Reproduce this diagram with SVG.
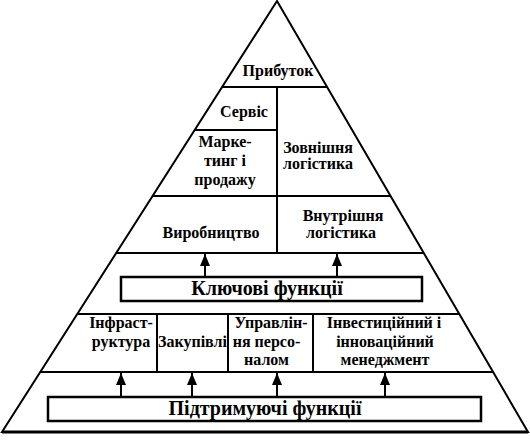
<svg xmlns="http://www.w3.org/2000/svg" width="530" height="441" viewBox="0 0 530 441">
<defs>
<style>
.ln{stroke:#000;stroke-width:2;fill:none}
.bx{stroke:#000;stroke-width:2.5;fill:#fff}
</style>
<marker id="ah" viewBox="0 0 12 10" refX="12" refY="5" markerWidth="12" markerHeight="10" markerUnits="userSpaceOnUse" orient="auto">
<path d="M0,0 L12,5 L0,10 Z" fill="#000"/>
</marker>
</defs>
<rect width="530" height="441" fill="#fff"/>
<g id="pyramid">
<polygon class="ln" points="277,1 2,432 528,432"/>
<line x1="2" y1="432" x2="528" y2="432" stroke="#000" stroke-width="3"/>
<line class="ln" x1="222" y1="87" x2="327" y2="87"/>
<line class="ln" x1="195" y1="130" x2="277" y2="130"/>
<line class="ln" x1="277" y1="87" x2="277" y2="196"/>
<line class="ln" x1="153" y1="196" x2="390" y2="196"/>
<line class="ln" x1="277" y1="196" x2="277" y2="253"/>
<line class="ln" x1="116" y1="253" x2="424" y2="253"/>
<line class="ln" x1="77" y1="314" x2="459" y2="314"/>
<line class="ln" x1="157" y1="314" x2="157" y2="372"/>
<line class="ln" x1="228" y1="314" x2="228" y2="372"/>
<line class="ln" x1="313" y1="314" x2="313" y2="372"/>
<line class="ln" x1="40" y1="372" x2="493" y2="372"/>
</g>
<g font-family="Liberation Serif, Times New Roman, serif" font-weight="bold" font-size="16" text-anchor="middle" fill="#000">
<g id="n-profit"><text x="278" y="76">Прибуток</text></g>
<g id="n-service"><text x="244" y="117">Сервіс</text></g>
<g id="n-marketing"><text x="225" y="147">Марке-</text><text x="225" y="166">тинг і</text><text x="225" y="185">продажу</text></g>
<g id="n-outlog"><text x="318" y="153">Зовнішня</text><text x="318" y="169">логістика</text></g>
<g id="n-production"><text x="211" y="238">Виробництво</text></g>
<g id="n-inlog"><text x="343" y="221">Внутрішня</text><text x="341" y="238">логістика</text></g>
<g id="n-key"><rect class="bx" x="121" y="277" width="301" height="24"/><text x="267" y="295" font-size="20">Ключові функції</text></g>
<g id="n-infra"><text x="121" y="328">Інфраст-</text><text x="121" y="347">руктура</text></g>
<g id="n-purchase"><text x="192.5" y="347">Закупівлі</text></g>
<g id="n-hr"><text x="271" y="328">Управлін-</text><text x="266.5" y="347">ня персо-</text><text x="266.5" y="365">налом</text></g>
<g id="n-invest"><text x="384" y="328">Інвестиційний і</text><text x="385" y="347">інноваційний</text><text x="385" y="365">менеджмент</text></g>
<g id="n-support"><rect class="bx" x="48" y="397" width="433" height="24"/><text x="265" y="415" font-size="20">Підтримуючі функції</text></g>
</g>
<g id="connectors">
<line class="ln" x1="205" y1="276" x2="205" y2="254" marker-end="url(#ah)"/>
<line class="ln" x1="337" y1="276" x2="337" y2="254" marker-end="url(#ah)"/>
<line class="ln" x1="121" y1="396" x2="121" y2="373" marker-end="url(#ah)"/>
<line class="ln" x1="192" y1="396" x2="192" y2="373" marker-end="url(#ah)"/>
<line class="ln" x1="277" y1="396" x2="277" y2="373" marker-end="url(#ah)"/>
<line class="ln" x1="385" y1="396" x2="385" y2="373" marker-end="url(#ah)"/>
</g>
</svg>
